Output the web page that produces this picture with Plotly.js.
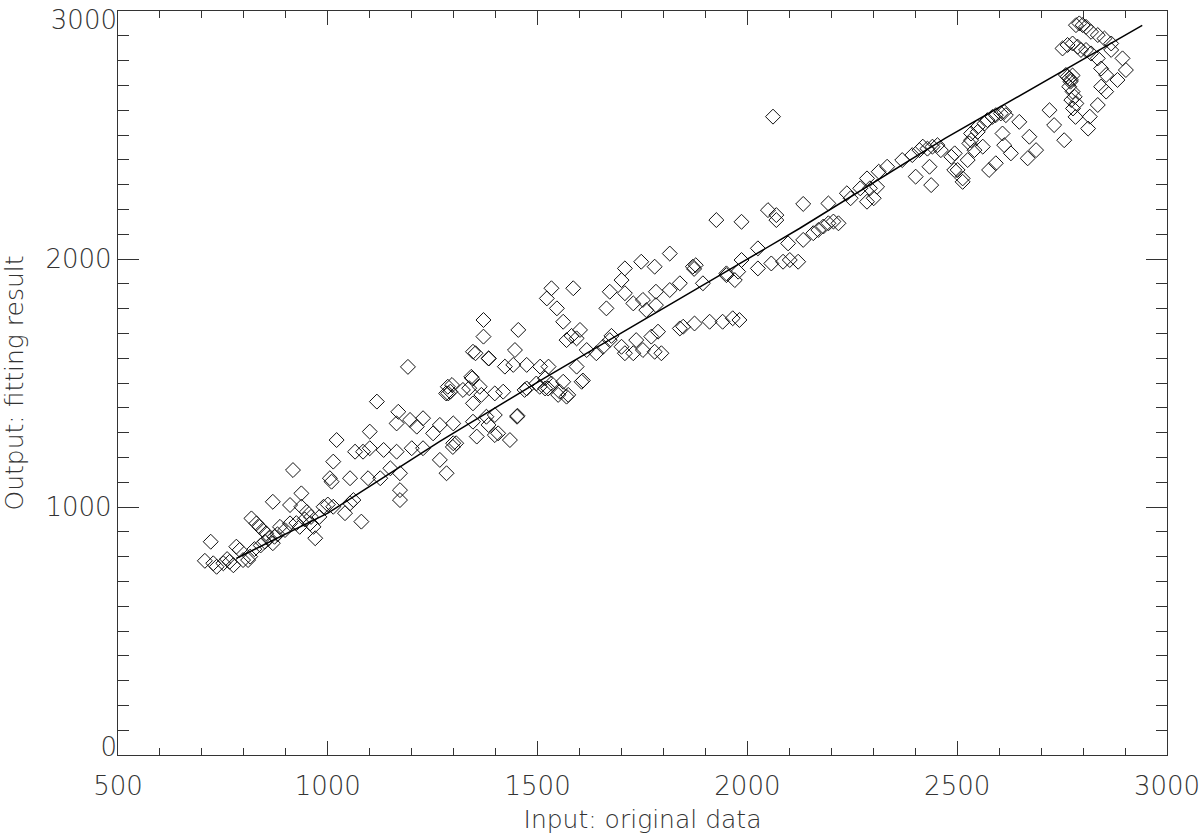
<!DOCTYPE html>
<html>
<head>
<meta charset="utf-8">
<script src="https://cdn.plot.ly/plotly-3.0.1.min.js"></script>
<style>html,body{margin:0;padding:0;background:#fff;}#chart{width:1200px;height:834px;}</style>
</head>
<body>
<div id="chart"></div>
<script>
// Scatter: input (original data) vs output (fitting result)
const inputX = [
721,707,727,735,751,766,782,790,798,810,818,830,837,845,853,869,873,886,898,910,933,869,910,937,937,917,958,966,970,990,
1013,1005,1009,1013,1021,1041,1053,1061,1080,1053,1065,1084,1100,1100,1117,1096,1125,1133,1149,1164,1172,1172,1172,1168,1164,
1196,1212,1227,1200,1227,1251,1267,1267,1283,1299,1299,1287,1191,
775,760,815,825,840,850,860,880,925,945,950,960,980,1000,
1286,1282,1322,1342,1362,1366,1346,1398,1418,1371,1371,1346,1383,1422,1442,1454,1446,1474,1474,1497,1506,1526,1518,1518,1533,
1553,1573,1561,1605,1608,1355,1306,1346,1378,1398,1383,1406,1434,1451,1452,1298,1398,
1533,1522,1546,1561,1585,1569,1593,1601,1581,1617,1640,1656,1672,1676,1700,1708,1728,1735,1751,1771,1787,1779,1795,1664,1672,
1700,1708,1708,1728,1751,1747,1779,1815,1759,1782,1782,1815,1839,1870,1877,1873,1894,1950,1839,1847,1874,1910,1941,1965,1981,
1469,1505,1525,1549,1569,1593,1352,1384,1296,1292,1344,1337,
2061,1926,1986,2049,2069,2069,2133,2193,2157,2169,2181,2193,2205,2217,2133,2097,2101,2121,2085,2057,2025,2025,1986,1978,1970,1950,
2237,2246,2269,2285,2292,2313,2333,2285,2301,2309,2369,2393,2410,2418,2429,2441,2453,2461,2401,2434,2438,2486,2493,2513,2525,2533,2549,
2501,2513,2494,2529,2541,2533,2549,2565,2572,2584,2592,2604,2612,2616,2561,2576,2592,2608,2612,2628,2648,2672,2668,2688,2720,2731,2755,
2759,2763,2767,2771,2775,2770,2767,2775,2780,2772,2784,2776,2782,
2751,2763,2775,2787,2795,2783,2791,2799,2807,
2819,2835,2851,2867,2807,2819,2835,2843,2867,2894,2902,2882,2855,2843,2855,2835,2816,2812
];
const outputY = [
860,783,773,759,773,779,840,827,786,786,954,934,920,907,894,854,880,920,907,934,920,1021,1008,1055,1001,1149,934,920,874,1001,
1001,1116,1102,1183,1270,975,1015,1028,941,1116,1223,1223,1237,1304,1425,1116,1116,1230,1156,1223,1136,1068,1028,1384,1337,
1351,1324,1358,1237,1237,1297,1331,1190,1136,1257,1337,1458,1565,
765,790,800,830,845,860,875,890,935,950,980,960,960,1010,
1485,1458,1472,1525,1485,1452,1418,1458,1465,1754,1687,1626,1599,1566,1573,1714,1633,1573,1478,1498,1566,1566,1519,1478,1498,
1465,1452,1505,1505,1510,1284,1257,1344,1364,1371,1331,1297,1270,1364,1368,1242,1290,
1882,1841,1801,1747,1882,1673,1680,1714,1690,1633,1620,1646,1673,1690,1646,1620,1620,1673,1633,1687,1707,1626,1620,1801,1868,
1915,1962,1862,1821,1835,1989,1969,2022,1794,1868,1814,1875,1902,1969,1975,1960,1902,1942,1720,1727,1740,1747,1747,1761,1754,
1472,1485,1478,1452,1445,1566,1620,1599,1492,1465,1519,1479,
2574,2157,2150,2197,2177,2157,2222,2224,2104,2117,2131,2144,2151,2144,2077,2063,1996,1989,1989,1982,1962,2043,1996,1949,1915,1935,
2265,2245,2285,2325,2285,2352,2372,2231,2245,2291,2399,2419,2439,2453,2445,2453,2459,2439,2332,2372,2298,2412,2359,2325,2399,2479,2513,
2359,2311,2426,2466,2439,2506,2533,2546,2560,2573,2580,2587,2593,2580,2453,2359,2386,2506,2459,2426,2553,2493,2406,2439,2600,2540,2479,
2742,2735,2728,2722,2740,2715,2695,2675,2654,2641,2627,2607,2573,
2849,2863,2869,2856,2843,2943,2950,2943,2936,
2916,2903,2889,2869,2843,2829,2809,2768,2843,2809,2762,2722,2742,2695,2675,2621,2574,2526
];
// Fitted curve
const fitX = [782, 1000, 1267, 1433, 1521, 1949, 2124, 2471, 2941];
const fitY = [793, 975, 1265, 1435, 1525, 1949, 2123, 2486, 2942];

const xTickVals = [500, 1000, 1500, 2000, 2500, 3000];
const yTickVals = [0, 1000, 2000, 3000];
const yTickTextMid = ['', '1000', '2000', ''];
const yTickValTop = [3000];
const yTickValBottom = [0];

const textColor = '#333';
const tickFont = {family: 'DejaVu Sans, Lato, sans-serif', size: 26, color: textColor, weight: 200};
const titleFont = {family: 'DejaVu Sans, Lato, sans-serif', size: 25, color: textColor, weight: 200};

const data = [
  {
    x: inputX, y: outputY, type: 'scatter', mode: 'markers',
    marker: {symbol: 'diamond-open', size: 11.5, color: '#111', line: {width: 1, color: '#111'}},
    hoverinfo: 'x+y'
  },
  {
    x: fitX, y: fitY, type: 'scatter', mode: 'lines',
    line: {color: '#000', width: 1.5}, hoverinfo: 'skip'
  },
  // empty traces so the label-only overlay axes are drawn
  {x: [], y: [], type: 'scatter', mode: 'markers', yaxis: 'y2', hoverinfo: 'skip'},
  {x: [], y: [], type: 'scatter', mode: 'markers', yaxis: 'y3', hoverinfo: 'skip'}
];

const labelOnlyAxis = (vals, shift) => ({
  overlaying: 'y', anchor: 'x', side: 'left', range: [0, 3000],
  tickvals: vals, ticks: '', showline: false, showgrid: false, zeroline: false,
  tickfont: tickFont, ticklabelshift: shift, ticklabeloverflow: 'allow'
});

const layout = {
  width: 1200, height: 834,
  margin: {l: 118, r: 33, t: 11, b: 79},
  paper_bgcolor: '#fff', plot_bgcolor: '#fff',
  showlegend: false,
  xaxis: {
    range: [500, 3000], tickvals: xTickVals, ticks: 'inside', ticklen: 14, tickwidth: 1, tickcolor: '#333',
    minor: {dtick: 100, ticks: 'inside', ticklen: 7, tickwidth: 1, tickcolor: '#333', showgrid: false},
    showline: true, linecolor: '#333', linewidth: 1.2, mirror: 'ticks',
    showgrid: false, zeroline: false, tickfont: tickFont, ticklabelstandoff: 8, ticklabeloverflow: 'allow',
    title: {text: 'Input: original data', font: titleFont, standoff: 14},
    automargin: false
  },
  yaxis: {
    range: [0, 3000], tickvals: yTickVals, ticktext: yTickTextMid, ticks: 'inside', ticklen: 21, tickwidth: 1, tickcolor: '#333',
    minor: {dtick: 100, ticks: 'inside', ticklen: 11, tickwidth: 1, tickcolor: '#333', showgrid: false},
    showline: true, linecolor: '#333', linewidth: 1.2, mirror: 'ticks',
    showgrid: false, zeroline: false, tickfont: tickFont,
    title: {text: 'Output: fitting result', font: titleFont, standoff: 14},
    automargin: false
  },
  yaxis2: labelOnlyAxis(yTickValTop, 9),
  yaxis3: labelOnlyAxis(yTickValBottom, -8)
};

Plotly.newPlot('chart', data, layout, {displayModeBar: false, staticPlot: true});
</script>
</body>
</html>
